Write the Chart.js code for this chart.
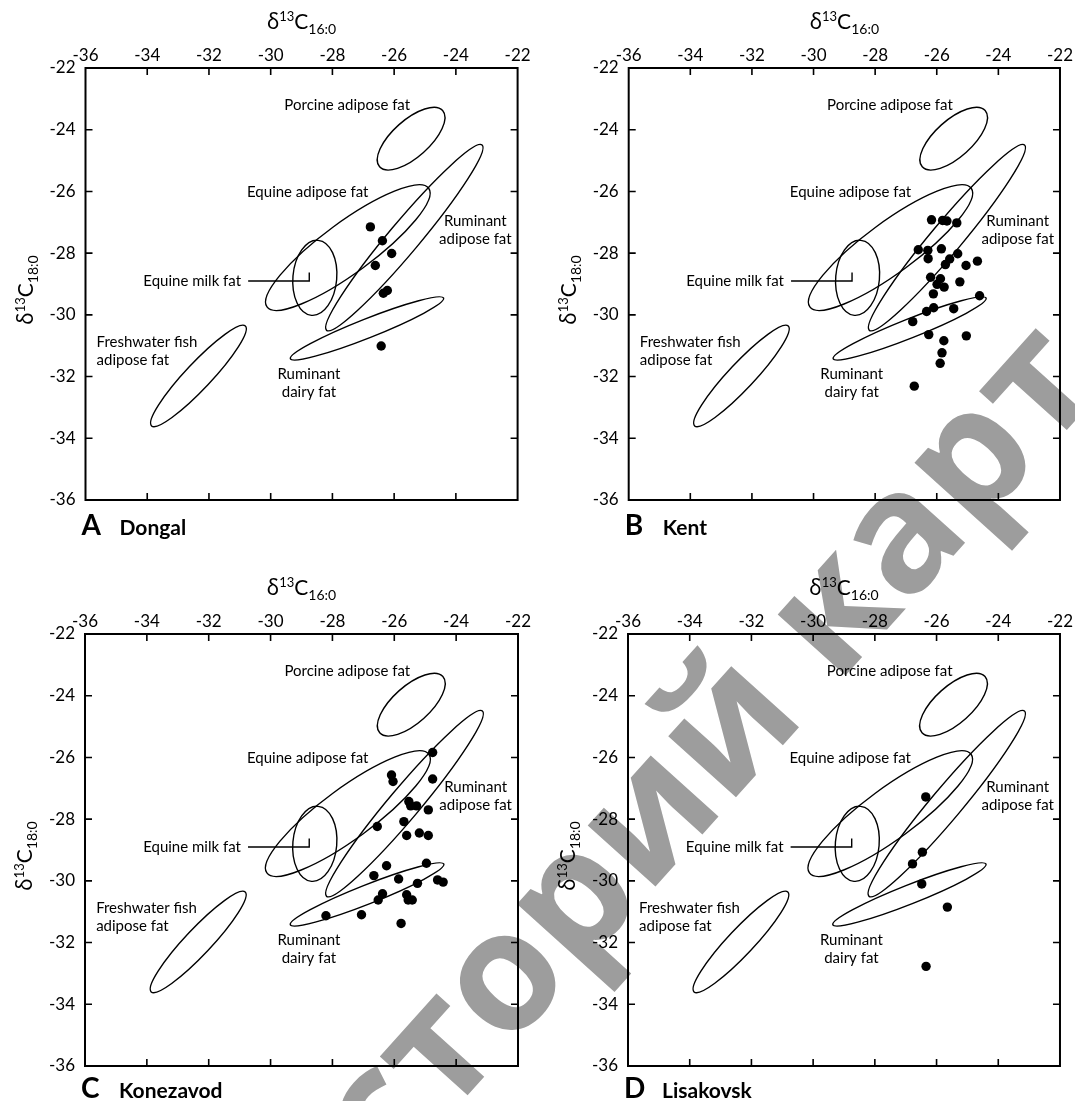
<!DOCTYPE html>
<html lang="es">
<head>
<meta charset="utf-8">
<title>δ13C 16:0 / 18:0</title>
<script src="https://cdn.jsdelivr.net/npm/chart.js@4.4.1/dist/chart.umd.min.js"></script>
<style>
  html, body { margin: 0; padding: 0; background: #fff; }
  #lienzo { position: relative; width: 1075px; height: 1101px; overflow: hidden; }
  canvas { position: absolute; }
</style>
</head>
<body>
<div id="lienzo">
  <canvas id="marca" width="1075" height="1101" style="left:0;top:0"></canvas>
  <canvas id="panelA" width="540" height="566" style="left:0;top:0"></canvas>
  <canvas id="panelB" width="535" height="566" style="left:540px;top:0"></canvas>
  <canvas id="panelC" width="540" height="535" style="left:0;top:566px"></canvas>
  <canvas id="panelD" width="535" height="535" style="left:540px;top:566px"></canvas>
</div>
<script>
Chart.defaults.font.family = "Lato, 'Noto Sans', sans-serif";
Chart.defaults.color = "#000";

/* ===================== EJES ===================== */
const ejeMin = -36;
const ejeMax = -22;
const ejePaso = 2;

/* ===================== MUESTRAS ===================== */
const dongalX = [-26.77, -26.38, -26.08, -26.61, -26.35, -26.22, -26.42];
const dongalY = [-27.15, -27.6, -28.01, -28.4, -29.3, -29.21, -31.01];

const kentX = [
  -26.17, -25.81, -25.67, -25.35, -26.6, -26.29, -26.28, -25.85, -25.32, -25.58,
  -25.72, -25.05, -24.68, -26.2, -25.88, -25.99, -25.76, -25.25, -26.11, -24.61,
  -26.1, -26.33, -25.45, -26.78, -26.26, -25.77, -25.04, -25.83, -25.89, -26.73,
];
const kentY = [
  -26.92, -26.94, -26.96, -27.02, -27.89, -27.91, -28.18, -27.86, -28.02, -28.19,
  -28.37, -28.4, -28.26, -28.78, -28.83, -29.01, -29.1, -28.93, -29.32, -29.38,
  -29.77, -29.89, -29.8, -30.22, -30.64, -30.84, -30.68, -31.23, -31.57, -32.31,
];

const konezavodX = [
  -24.76, -26.09, -26.04, -24.76, -25.53, -25.47, -25.28, -24.9, -26.55, -25.69,
  -25.6, -25.19, -24.9, -24.96, -26.25, -26.66, -25.86, -25.25, -24.6, -24.42,
  -26.38, -26.52, -25.6, -25.55, -25.42, -28.21, -27.06, -25.78,
];
const konezavodY = [
  -25.84, -26.57, -26.78, -26.7, -27.43, -27.57, -27.57, -27.7, -28.24, -28.08,
  -28.53, -28.45, -28.53, -29.43, -29.51, -29.83, -29.94, -30.08, -29.97, -30.04,
  -30.42, -30.62, -30.45, -30.62, -30.62, -31.13, -31.1, -31.38,
];

const lisakovskX = [-26.35, -26.46, -26.78, -26.48, -25.65, -26.34];
const lisakovskY = [-27.28, -29.07, -29.45, -30.1, -30.85, -32.77];

/* ===================== ELIPSES DE REFERENCIA ===================== */
// porcino, rumiante adiposo, equino adiposo, leche equina, lácteo rumiante, pez de agua dulce
const elipseCentroX = [-25.45, -25.67, -27.5, -28.57, -26.88, -32.34];
const elipseCentroY = [-24.29, -27.5, -27.82, -28.8, -30.44, -31.98];
const elipseEjeMayor = [1.37, 3.92, 3.25, 1.22, 2.67, 2.22];
const elipseEjeMenor = [0.6, 0.5, 0.82, 0.71, 0.31, 0.42];
const elipseAngulo = [41.8, 50, 36.3, 85, 21.6, 46.8];

// guía de "Equine milk fat"
const guiaX = [-30.73, -28.75, -28.75];
const guiaY = [-28.905, -28.905, -28.63];

/* ===================== ROTULOS ===================== */
const rotulos = [
  { lineas: ["Porcine adipose fat"], x: -27.52, y: -23.21, alinear: "center" },
  { lineas: ["Equine adipose fat"], x: -28.8, y: -26.02, alinear: "center" },
  { lineas: ["Ruminant", "adipose fat"], x: -23.37, y: -26.95, alinear: "center" },
  { lineas: ["Equine milk fat"], x: -30.96, y: -28.905, alinear: "right" },
  { lineas: ["Freshwater fish", "adipose fat"], x: -35.64, y: -30.89, alinear: "left" },
  { lineas: ["Ruminant", "dairy fat"], x: -28.76, y: -31.92, alinear: "center" },
];

/* ===================== UTIL ===================== */
function elipse(ctx, sx, sy, cx, cy, a, b, ang) {
  const t = (ang * Math.PI) / 180;
  const x0 = sx.getPixelForValue(cx);
  const y0 = sy.getPixelForValue(cy);
  const ax = sx.getPixelForValue(cx + a * Math.cos(t)) - x0;
  const ay = sy.getPixelForValue(cy + a * Math.sin(t)) - y0;
  const bx = sx.getPixelForValue(cx - b * Math.sin(t)) - x0;
  const by = sy.getPixelForValue(cy + b * Math.cos(t)) - y0;
  ctx.save();
  ctx.beginPath();
  ctx.transform(ax, ay, bx, by, x0, y0);
  ctx.arc(0, 0, 1, 0, 2 * Math.PI);
  ctx.restore();
  ctx.stroke();
}

// δ13C con superíndice y subíndice, centrado en x0
function tituloDelta(ctx, x0, y0, sub) {
  const partes = [
    { t: "δ", f: "21px 'Noto Sans', Lato", dy: 0 },
    { t: "13", f: "13px Lato", dy: -8 },
    { t: "C", f: "21px Lato", dy: 0 },
    { t: sub, f: "14px Lato", dy: 5 },
  ];
  let ancho = 0;
  partes.forEach((p) => {
    ctx.font = p.f;
    p.w = ctx.measureText(p.t).width;
    ancho += p.w;
  });
  let cx = x0 - ancho / 2;
  ctx.textAlign = "left";
  ctx.textBaseline = "alphabetic";
  partes.forEach((p) => {
    ctx.font = p.f;
    ctx.fillText(p.t, cx, y0 + p.dy);
    cx += p.w;
  });
}

/* ===================== PLUGIN ===================== */
const adornos = {
  id: "adornos",
  beforeDatasetsDraw(chart) {
    const { ctx, scales: { x, y } } = chart;
    ctx.save();
    ctx.strokeStyle = "#000";
    ctx.lineWidth = 1.4;
    elipseCentroX.forEach((cx, i) =>
      elipse(ctx, x, y, cx, elipseCentroY[i], elipseEjeMayor[i], elipseEjeMenor[i], elipseAngulo[i])
    );

    ctx.beginPath();
    guiaX.forEach((gx, i) => {
      const px = x.getPixelForValue(gx);
      const py = y.getPixelForValue(guiaY[i]);
      i ? ctx.lineTo(px, py) : ctx.moveTo(px, py);
    });
    ctx.stroke();

    ctx.fillStyle = "#000";
    ctx.font = "15px Lato";
    ctx.textBaseline = "middle";
    rotulos.forEach((r) => {
      ctx.textAlign = r.alinear;
      r.lineas.forEach((l, j) =>
        ctx.fillText(l, x.getPixelForValue(r.x), y.getPixelForValue(r.y) + j * 18.3)
      );
    });
    ctx.restore();
  },
  afterDraw(chart, args, opts) {
    const { ctx, chartArea: a, scales: { x, y } } = chart;
    ctx.save();
    ctx.strokeStyle = "#000";
    ctx.fillStyle = "#000";

    // marco y marcas hacia dentro
    ctx.lineWidth = 2;
    ctx.strokeRect(a.left, a.top, a.width, a.height);
    ctx.lineWidth = 1.6;
    ctx.beginPath();
    x.ticks.forEach((t) => {
      if (t.value <= ejeMin || t.value >= ejeMax) return;
      const px = x.getPixelForValue(t.value);
      ctx.moveTo(px, a.top);
      ctx.lineTo(px, a.top + 7);
      ctx.moveTo(px, a.bottom);
      ctx.lineTo(px, a.bottom - 7);
    });
    y.ticks.forEach((t) => {
      if (t.value <= ejeMin || t.value >= ejeMax) return;
      const py = y.getPixelForValue(t.value);
      ctx.moveTo(a.left, py);
      ctx.lineTo(a.left + 7, py);
      ctx.moveTo(a.right, py);
      ctx.lineTo(a.right - 7, py);
    });
    ctx.stroke();

    // títulos de ejes
    tituloDelta(ctx, (a.left + a.right) / 2, a.top - 39, "16:0");
    ctx.save();
    ctx.translate(a.left - 53, (a.top + a.bottom) / 2 + 6);
    ctx.rotate(-Math.PI / 2);
    tituloDelta(ctx, 0, 0, "18:0");
    ctx.restore();

    // letra y sitio
    ctx.textAlign = "left";
    ctx.textBaseline = "alphabetic";
    ctx.font = "bold 28px Lato";
    ctx.fillText(opts.letra, a.left - 4, a.bottom + opts.bajo);
    ctx.font = "bold 21px Lato";
    ctx.fillText(opts.sitio, a.left + 34, a.bottom + opts.bajo);
    ctx.restore();
  },
};

/* ===================== CREAR PANEL ===================== */
function crearPanel(id, letra, sitio, xs, ys, izq, der, bajo) {
  const lienzo = document.getElementById(id);
  return new Chart(lienzo, {
    type: "scatter",
    data: {
      datasets: [
        {
          label: sitio,
          data: xs.map((v, i) => ({ x: v, y: ys[i] })),
          pointRadius: 4.7,
          pointBackgroundColor: "#000",
          pointBorderWidth: 0,
          showLine: false,
        },
      ],
    },
    plugins: [adornos],
    options: {
      responsive: false,
      animation: false,
      events: [],
      layout: { padding: { left: 0, right: der, top: 0, bottom: lienzo.height - 500 } },
      plugins: {
        legend: { display: false },
        tooltip: { enabled: false },
        adornos: { letra, sitio, bajo },
      },
      scales: {
        x: {
          type: "linear",
          position: "top",
          min: ejeMin,
          max: ejeMax,
          ticks: { stepSize: ejePaso, autoSkip: false, maxRotation: 0, padding: 2, font: { size: 17 } },
          grid: { display: false, drawTicks: false },
          border: { display: false },
          afterFit: (s) => { s.height = 68; },
        },
        y: {
          type: "linear",
          position: "left",
          min: ejeMin,
          max: ejeMax,
          ticks: { stepSize: ejePaso, autoSkip: false, padding: 10, font: { size: 17 } },
          grid: { display: false, drawTicks: false },
          border: { display: false },
          afterFit: (s) => { s.width = izq; },
        },
      },
    },
  });
}

/* ===================== MARCA DE AGUA ===================== */
function dibujarMarca() {
  const c = document.getElementById("marca").getContext("2d");
  c.save();
  c.fillStyle = "#9d9d9d";
  c.font = "bold 167px 'Open Sans'";
  c.textBaseline = "middle";
  const antes = c.measureText("историй ").width;
  const k = c.measureText("к").width;
  c.translate(836, 615);
  c.rotate((-48 * Math.PI) / 180);
  c.fillText("историй карт", -(antes + k / 2), 0);
  c.restore();
}

dibujarMarca();
crearPanel("panelA", "A", "Dongal", dongalX, dongalY, 85.5, 22.4, 35);
crearPanel("panelB", "B", "Kent", kentX, kentY, 88.7, 13, 35);
crearPanel("panelC", "C", "Konezavod", konezavodX, konezavodY, 85, 22, 32);
crearPanel("panelD", "D", "Lisakovsk", lisakovskX, lisakovskY, 88, 13.5, 32);
</script>
</body>
</html>
